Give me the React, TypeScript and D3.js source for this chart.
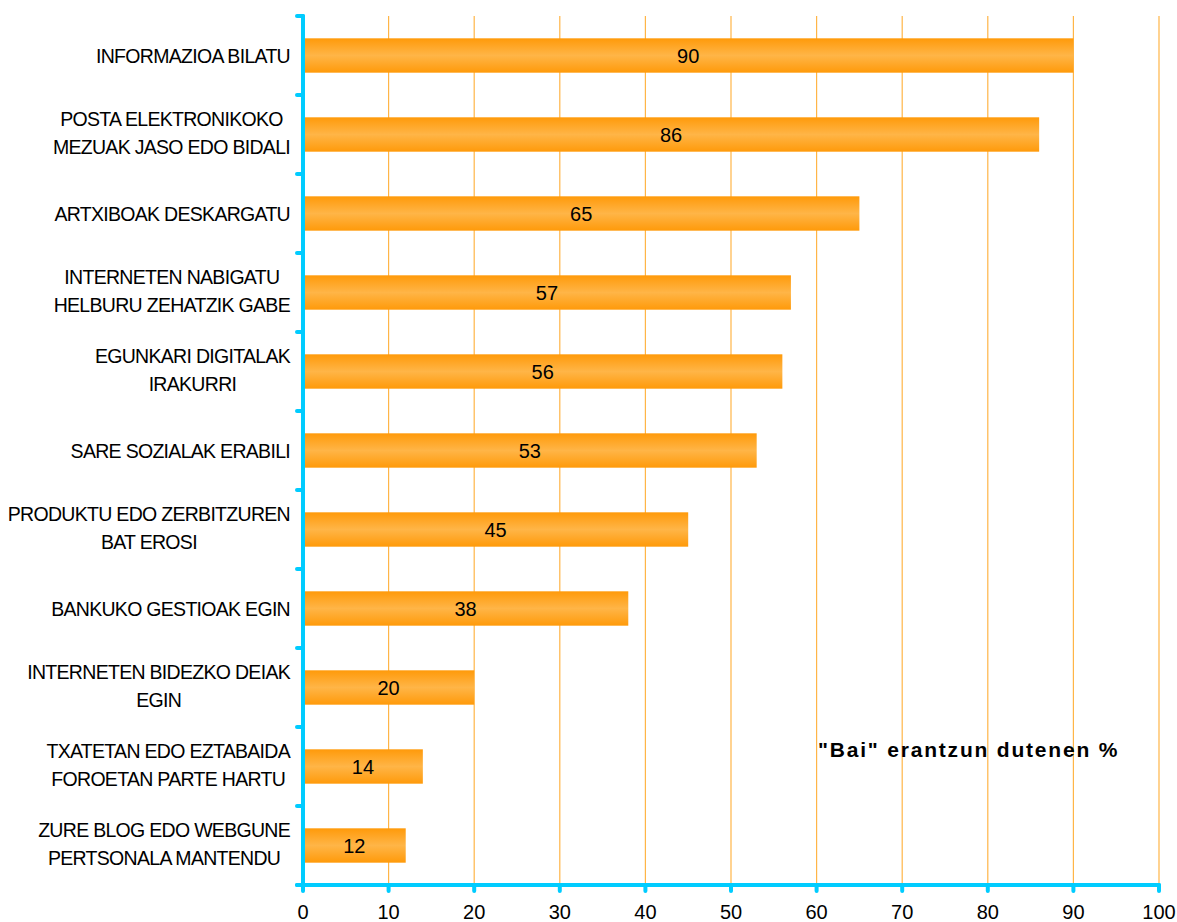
import React from "react";
import * as d3 from "d3";

const categories: string[][] = [
  ["INFORMAZIOA BILATU"],
  ["POSTA ELEKTRONIKOKO", "MEZUAK JASO EDO BIDALI"],
  ["ARTXIBOAK DESKARGATU"],
  ["INTERNETEN NABIGATU", "HELBURU ZEHATZIK GABE"],
  ["EGUNKARI DIGITALAK", "IRAKURRI"],
  ["SARE SOZIALAK ERABILI"],
  ["PRODUKTU EDO ZERBITZUREN", "BAT EROSI"],
  ["BANKUKO GESTIOAK EGIN"],
  ["INTERNETEN BIDEZKO DEIAK", "EGIN"],
  ["TXATETAN EDO EZTABAIDA", "FOROETAN PARTE HARTU"],
  ["ZURE BLOG EDO WEBGUNE", "PERTSONALA MANTENDU"],
];
const values: number[] = [90, 86, 65, 57, 56, 53, 45, 38, 20, 14, 12];
const xTicks: number[] = [0, 10, 20, 30, 40, 50, 60, 70, 80, 90, 100];
const annotation = '"Bai" erantzun dutenen %';

const LABEL_FS = 19.5;
const LABEL_LS = -0.7;

function measure(s: string): number {
  if (typeof document === "undefined") return s.length * LABEL_FS * 0.6;
  const c = document.createElement("canvas");
  const ctx = c.getContext("2d");
  if (!ctx) return s.length * LABEL_FS * 0.6;
  ctx.font = `${LABEL_FS}px 'Liberation Sans', Arial, sans-serif`;
  return ctx.measureText(s).width + LABEL_LS * s.length;
}

export default function App() {
  const W = 1177, H = 922;
  const x0 = 303, x1 = 1159, yTop = 16, yBot = 885;
  const x = d3.scaleLinear().domain([0, 100]).range([x0, x1]);
  const idx = categories.map((_, i) => String(i));
  const y = d3.scaleBand().domain(idx).range([yTop, yBot]).paddingInner(0.565).paddingOuter(0.2825);
  const band = (yBot - yTop) / categories.length;
  const axisColor = "#00CCFF";
  const gridColor = "#FFB547";
  const labelRight = 290;
  return (
    <svg width={W} height={H} style={{ position: "absolute", left: 0, top: 0, background: "#fff" }}
      fontFamily="'Liberation Sans', Arial, sans-serif">
      <defs>
        <linearGradient id="barg" x1="0" y1="0" x2="0" y2="1">
          <stop offset="0%" stopColor="#FF9A0A" />
          <stop offset="50%" stopColor="#FFB547" />
          <stop offset="100%" stopColor="#FF9A0A" />
        </linearGradient>
      </defs>
      {xTicks.filter(t => t > 0).map(t => (
        <line key={"g" + t} x1={x(t)} x2={x(t)} y1={yTop} y2={yBot} stroke={gridColor} strokeWidth={1.2} />
      ))}
      {values.map((v, i) => (
        <g key={"b" + i}>
          <rect x={x(0)} y={y(String(i))!} width={x(v) - x(0)} height={y.bandwidth()} fill="url(#barg)" />
          <text x={(x(0) + x(v)) / 2} y={y(String(i))! + y.bandwidth() / 2 + 7} textAnchor="middle"
            fontSize={20} fill="#000">{v}</text>
        </g>
      ))}
      {categories.map((lines, i) => {
        const cy = yTop + band * (i + 0.5);
        const lh = 28;
        if (lines.length === 1) {
          return (
            <text key={"c" + i} x={labelRight} y={cy + 7} textAnchor="end" fontSize={LABEL_FS} fill="#000"
              letterSpacing={LABEL_LS}>{lines[0]}</text>
          );
        }
        const maxW = Math.max(...lines.map(measure));
        const cx = labelRight - maxW / 2;
        return (
          <text key={"c" + i} textAnchor="middle" fontSize={LABEL_FS} fill="#000" letterSpacing={LABEL_LS}>
            {lines.map((l, j) => (
              <tspan key={j} x={cx} y={cy + (j - (lines.length - 1) / 2) * lh + 5}>{l}</tspan>
            ))}
          </text>
        );
      })}
      {/* left axis */}
      <line x1={x0} x2={x0} y1={yTop} y2={yBot} stroke={axisColor} strokeWidth={4} strokeLinecap="round" />
      {d3.range(categories.length + 1).map(k => (
        <line key={"lt" + k} x1={x0 - 6} x2={x0} y1={yTop + band * k} y2={yTop + band * k}
          stroke={axisColor} strokeWidth={4} strokeLinecap="round" />
      ))}
      {/* bottom axis */}
      <line x1={x0 - 6} x2={x1} y1={yBot} y2={yBot} stroke={axisColor} strokeWidth={4} strokeLinecap="round" />
      {xTicks.map(t => (
        <g key={"xt" + t}>
          <line x1={x(t)} x2={x(t)} y1={yBot} y2={yBot + 6} stroke={axisColor} strokeWidth={4} strokeLinecap="round" />
          <text x={x(t)} y={919} textAnchor="middle" fontSize={20} fill="#000">{t}</text>
        </g>
      ))}
      <text x={818} y={757} fontSize={21} fontWeight="bold" fill="#000" letterSpacing="1.8">{annotation}</text>
    </svg>
  );
}
